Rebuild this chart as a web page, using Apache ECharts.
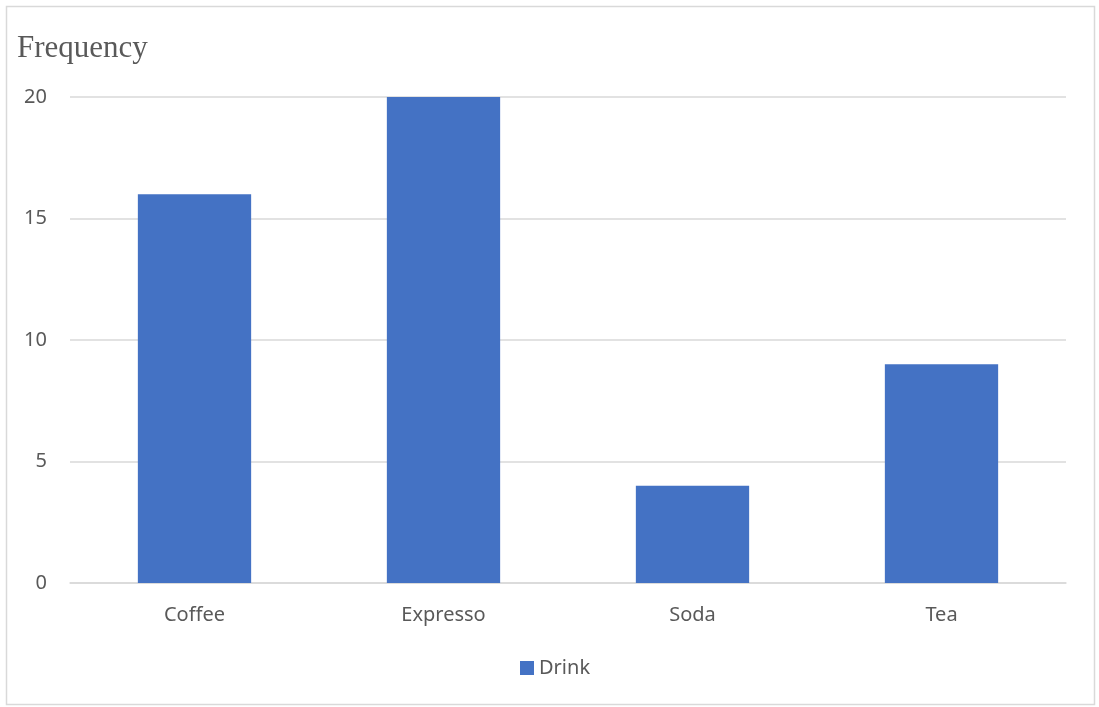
<!DOCTYPE html>
<html>
<head>
<meta charset="utf-8">
<style>
  html, body { margin: 0; padding: 0; background: #fff; }
  #chart { width: 1099px; height: 707px; }
</style>
<script src="https://cdn.jsdelivr.net/npm/echarts@6/dist/echarts.min.js"></script>
</head>
<body>
<div id="chart"></div>
<script>
// Drink preference counts
const categories = ['Coffee', 'Expresso', 'Soda', 'Tea'];
const drinkCounts = [16, 20, 4, 9];
const yTicks = { min: 0, max: 20, interval: 5 };

const chart = echarts.init(document.getElementById('chart'), null, { renderer: 'canvas' });

const labelFont = '"Noto Sans", "Open Sans", sans-serif';

chart.setOption({
  animation: false,
  backgroundColor: '#ffffff',
  title: {
    text: 'Frequency',
    left: 12,
    top: 28,
    textStyle: {
      fontFamily: '"Liberation Serif", "DejaVu Serif", serif',
      fontSize: 31,
      fontWeight: 'normal',
      color: '#595959'
    }
  },
  graphic: [{
    type: 'rect',
    shape: { x: 6.5, y: 6.5, width: 1088, height: 698 },
    style: { fill: 'none', stroke: '#d9d9d9', lineWidth: 1.5 },
    silent: true
  }],
  legend: {
    data: ['Drink'],
    bottom: 24,
    left: 515,
    itemWidth: 14,
    itemHeight: 14,
    itemGap: 6,
    icon: 'rect',
    textStyle: { fontFamily: labelFont, fontSize: 20, color: '#595959' }
  },
  grid: {
    left: 70,
    right: 33,
    top: 97,
    bottom: 124,
    containLabel: false
  },
  xAxis: {
    type: 'category',
    data: categories,
    axisLine: { show: true, lineStyle: { color: '#d9d9d9', width: 1.5 } },
    axisTick: { show: false },
    axisLabel: {
      fontFamily: labelFont,
      fontSize: 20,
      color: '#595959',
      margin: 22
    }
  },
  yAxis: {
    type: 'value',
    min: yTicks.min,
    max: yTicks.max,
    interval: yTicks.interval,
    axisLine: { show: false },
    axisTick: { show: false },
    splitLine: { lineStyle: { color: '#d9d9d9', width: 1.5 } },
    axisLabel: {
      fontFamily: labelFont,
      fontSize: 20,
      color: '#595959',
      margin: 23
    }
  },
  series: [{
    name: 'Drink',
    type: 'bar',
    data: drinkCounts,
    barWidth: '45.5%',
    itemStyle: { color: '#4472c4' }
  }]
});
</script>
</body>
</html>
